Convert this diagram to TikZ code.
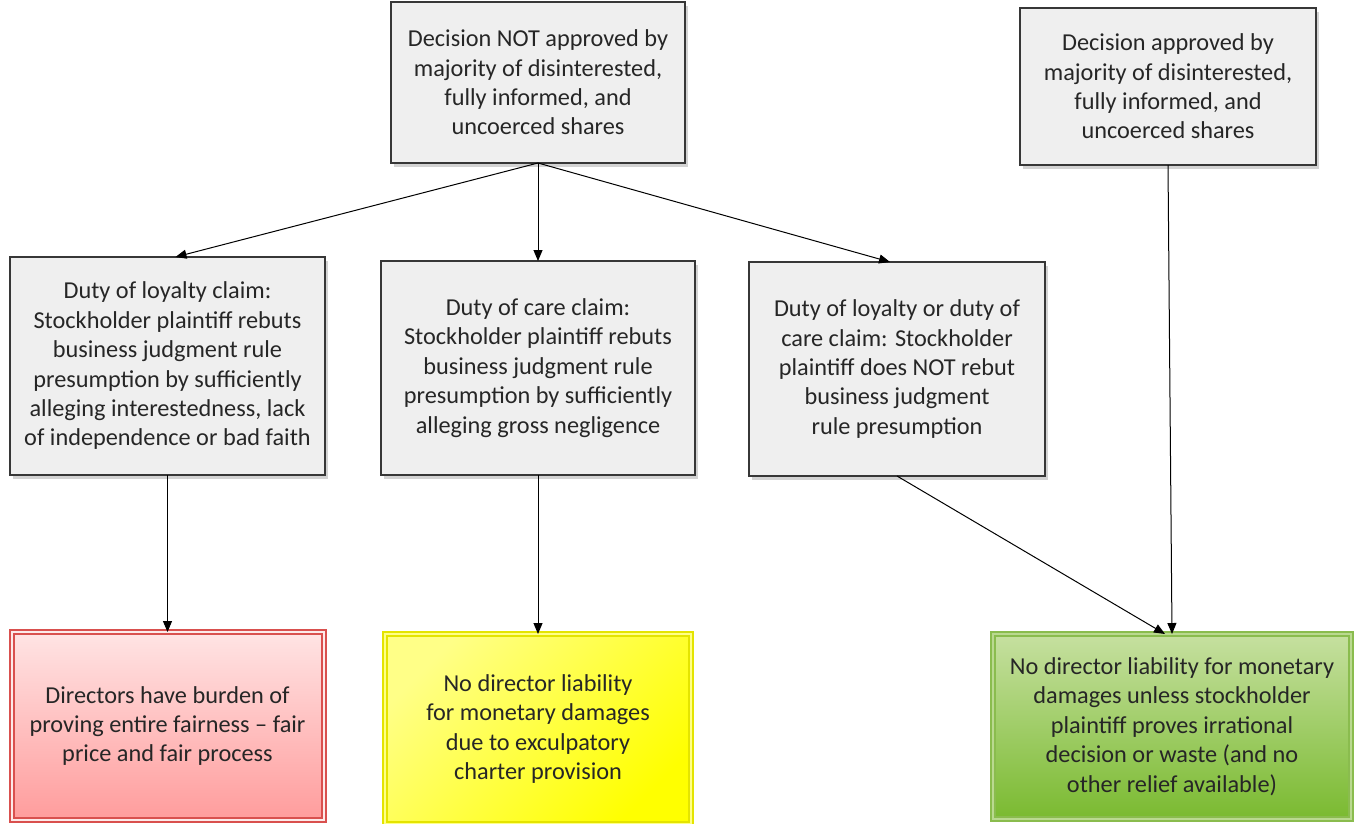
\documentclass[tikz,border=0pt]{standalone}
\usepackage{fontspec}
\setmainfont{Carlito}
\usetikzlibrary{arrows.meta,shadows}

\definecolor{boxgrey}{RGB}{239,239,239}
\definecolor{linegrey}{RGB}{55,55,55}
\definecolor{textgrey}{RGB}{38,38,38}
\definecolor{redline}{RGB}{217,80,78}
\definecolor{redtop}{RGB}{255,228,228}
\definecolor{redbot}{RGB}{255,156,156}
\definecolor{ylwline}{RGB}{228,228,0}
\definecolor{ylwtop}{RGB}{255,255,135}
\definecolor{ylwbot}{RGB}{255,255,0}
\definecolor{grnline}{RGB}{138,188,78}
\definecolor{grntop}{RGB}{198,224,160}
\definecolor{grnbot}{RGB}{122,186,48}

\begin{document}
\begin{tikzpicture}[x=1pt,y=-1pt,
    box/.style={draw=linegrey, line width=1.3pt, fill=boxgrey, text=textgrey, align=center,
        inner sep=0pt, outer sep=0pt, font=\fontsize{24.3}{29.4}\selectfont,
        drop shadow={shadow xshift=3pt, shadow yshift=-4pt, opacity=0.35}},
    endbox/.style={line width=2pt, double distance=2pt, text=textgrey, align=center,
        inner sep=0pt, outer sep=0pt, font=\fontsize{24.3}{29.4}\selectfont,
        drop shadow={shadow xshift=2pt, shadow yshift=-2pt, opacity=0.25}},
    arr/.style={-{Triangle[length=11pt,width=9pt]}, line width=1pt, black}]

    \useasboundingbox (0,0) rectangle (1356,823);

    % decisions
    \node (b1) at (538,82.5) [box, minimum width=294pt, minimum height=161pt] {Decision NOT approved by\\majority of disinterested,\\fully informed, and\\uncoerced shares};
    \node (b2) at (1168,86.5) [box, minimum width=296pt, minimum height=157pt] {Decision approved by\\majority of disinterested,\\fully informed, and\\uncoerced shares};

    % claims
    \node (b3) at (167.5,366) [box, minimum width=315pt, minimum height=218pt] {Duty of loyalty claim:\\Stockholder plaintiff rebuts\\business judgment rule\\presumption by sufficiently\\alleging interestedness, lack\\of independence or bad faith};
    \node (b4) at (538,368) [box, minimum width=314pt, minimum height=214pt] {Duty of care claim:\\Stockholder plaintiff rebuts\\business judgment rule\\presumption by sufficiently\\alleging gross negligence};
    \node (b5) at (897,369) [box, minimum width=296pt, minimum height=214pt] {Duty of loyalty or duty of\\care claim: Stockholder\\plaintiff does NOT rebut\\business judgment\\rule presumption};

    % outcomes
    \node (b6) at (167.5,726) [endbox, draw=redline, double=redtop!70!redline!30, top color=redtop, bottom color=redbot, minimum width=312pt, minimum height=188pt] {Directors have burden of\\proving entire fairness – fair\\price and fair process};
    \node (b7) at (538,729) [endbox, draw=ylwline, double=ylwtop, top color=ylwtop, bottom color=ylwbot, shading angle=45, minimum width=306pt, minimum height=190pt] {No director liability\\for monetary damages\\due to exculpatory\\charter provision};
    \node (b8) at (1172,726.5) [endbox, draw=grnline, double=grntop!80!grnline, top color=grntop, bottom color=grnbot, minimum width=358pt, minimum height=185pt] {No director liability for monetary\\damages unless stockholder\\plaintiff proves irrational\\decision or waste (and no\\other relief available)};

    \draw [arr] (b1.south) -- ([xshift=8pt]b3.north);
    \draw [arr] (b1.south) -- (b4.north);
    \draw [arr] (b1.south) -- ([xshift=-7pt]b5.north);
    \draw [arr] (b3.south) -- (b6.north);
    \draw [arr] (b4.south) -- (b7.north);
    \draw [arr] (b5.south) -- ([xshift=-7pt]b8.north);
    \draw [arr] (b2.south) -- (b8.north);

\end{tikzpicture}
\end{document}
